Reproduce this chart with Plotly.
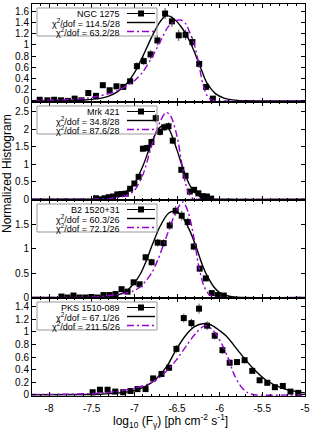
import plotly.graph_objects as go
from plotly.subplots import make_subplots

# ---------------- data ----------------
source_names = ["NGC 1275", "Mrk 421", "B2 1520+31", "PKS 1510-089"]
chi_black = ["114.5/28", "34.8/28", "60.3/26", "67.1/26"]
chi_purple = ["63.2/28", "87.6/28", "72.1/26", "211.5/26"]

# Panel 1: NGC 1275
ngc_x = [-8.11, -8.02, -7.94, -7.86, -7.78, -7.70, -7.62, -7.54, -7.45, -7.37, -7.29, -7.21, -7.13,
         -7.05, -6.97, -6.89, -6.81, -6.73, -6.64, -6.56, -6.48, -6.40, -6.32, -6.24, -6.16, -6.08]
ngc_y = [0.02, 0.01, 0.02, 0.01, 0.0, 0.04, 0.01, 0.14, 0.09, 0.28, 0.19, 0.26, 0.25,
         0.35, 0.62, 0.71, 0.83, 1.08, 1.56, 1.42, 1.17, 1.18, 1.05, 0.66, 0.25, 0.04]
ngc_err = [0.02, 0.01, 0.02, 0.01, 0.01, 0.02, 0.01, 0.04, 0.03, 0.05, 0.04, 0.05, 0.05,
           0.05, 0.07, 0.07, 0.08, 0.09, 0.1, 0.1, 0.1, 0.09, 0.09, 0.07, 0.04, 0.02]
ngc_fit1_x = [-8.2, -7.8, -7.6, -7.4, -7.3, -7.2, -7.1, -7.0, -6.9, -6.8, -6.7, -6.63, -6.55, -6.45,
              -6.35, -6.25, -6.15, -6.05, -5.95, -5.85, -5.7, -5.0]
ngc_fit1_y = [0.0, 0.004, 0.015, 0.045, 0.085, 0.16, 0.29, 0.5, 0.8, 1.13, 1.41, 1.52, 1.48, 1.32,
              1.06, 0.7, 0.32, 0.13, 0.05, 0.017, 0.002, 0.0]
ngc_fit2_x = [-8.2, -7.8, -7.6, -7.4, -7.2, -7.0, -6.9, -6.8, -6.7, -6.6, -6.5, -6.45, -6.4, -6.35,
              -6.3, -6.25, -6.2, -6.15, -6.1, -6.0, -5.0]
ngc_fit2_y = [0.005, 0.02, 0.04, 0.09, 0.18, 0.36, 0.52, 0.76, 1.05, 1.33, 1.44, 1.44, 1.38, 1.22,
              1.02, 0.7, 0.32, 0.1, 0.02, 0.0, 0.0]

# Panel 2: Mrk 421
mrk_x = [-7.45, -7.40, -7.35, -7.30, -7.25, -7.20, -7.15, -7.10, -7.05, -7.00, -6.95, -6.90, -6.85,
         -6.80, -6.75, -6.70, -6.65, -6.60, -6.55, -6.45, -6.40, -6.35, -6.30, -6.25, -6.20, -6.15, -6.10]
mrk_y = [0.03, 0.0, 0.03, 0.06, 0.08, 0.14, 0.15, 0.16, 0.3, 0.45, 0.64, 1.44, 1.46,
         1.63, 2.31, 1.92, 2.05, 2.08, 1.67, 0.84, 0.67, 0.22, 0.27, 0.17, 0.09, 0.08, 0.02]
mrk_err = [0.02, 0.01, 0.02, 0.03, 0.03, 0.04, 0.04, 0.04, 0.05, 0.06, 0.07, 0.1, 0.1,
           0.1, 0.12, 0.11, 0.11, 0.11, 0.1, 0.07, 0.07, 0.04, 0.04, 0.04, 0.03, 0.03, 0.02]
mrk_fit1_x = [-8.2, -7.6, -7.4, -7.3, -7.2, -7.1, -7.0, -6.9, -6.8, -6.72, -6.66, -6.6, -6.5, -6.45,
              -6.4, -6.35, -6.3, -6.2, -6.1, -6.0, -5.0]
mrk_fit1_y = [0.0, 0.003, 0.02, 0.05, 0.1, 0.22, 0.45, 0.95, 1.6, 2.0, 2.1, 2.02, 1.4, 1.02,
              0.68, 0.4, 0.21, 0.05, 0.01, 0.0, 0.0]
mrk_fit2_x = [-8.2, -7.5, -7.3, -7.1, -7.0, -6.9, -6.8, -6.7, -6.63, -6.58, -6.5, -6.45, -6.4,
              -6.35, -6.3, -6.2, -5.0]
mrk_fit2_y = [0.0, 0.005, 0.02, 0.1, 0.25, 0.7, 1.5, 2.2, 2.47, 2.4, 1.8, 1.1, 0.45,
              0.1, 0.01, 0.0, 0.0]

# Panel 3: B2 1520+31
b2_x = [-7.855, -7.785, -7.714, -7.644, -7.573, -7.503, -7.432, -7.362, -7.291, -7.221, -7.150,
        -7.080, -7.009, -6.939, -6.868, -6.798, -6.727, -6.657, -6.586, -6.516, -6.445, -6.375,
        -6.304, -6.234, -6.163, -6.093, -6.022, -5.952]
b2_y = [0.02, 0.0, 0.04, 0.0, 0.0, 0.01, 0.0, 0.05, 0.05, 0.07, 0.17, 0.12, 0.31, 0.27, 0.82,
        0.72, 1.12, 1.11, 1.47, 1.77, 1.67, 1.54, 1.04, 0.59, 0.39, 0.09, 0.05, 0.04]
b2_err = [0.02, 0.01, 0.02, 0.01, 0.01, 0.01, 0.01, 0.03, 0.03, 0.03, 0.04, 0.04, 0.05, 0.05,
          0.07, 0.07, 0.08, 0.08, 0.09, 0.1, 0.1, 0.09, 0.08, 0.06, 0.05, 0.03, 0.02, 0.02]
b2_fit1_x = [-8.2, -7.6, -7.3, -7.2, -7.1, -7.0, -6.93, -6.86, -6.8, -6.7, -6.6, -6.53, -6.45,
             -6.35, -6.29, -6.2, -6.14, -6.07, -6.0, -5.9, -5.8, -5.0]
b2_fit1_y = [0.0, 0.002, 0.02, 0.05, 0.12, 0.3, 0.48, 0.75, 1.03, 1.45, 1.72, 1.76, 1.68,
             1.36, 1.1, 0.65, 0.42, 0.22, 0.1, 0.03, 0.006, 0.0]
b2_fit2_x = [-8.2, -7.6, -7.4, -7.2, -7.1, -7.0, -6.93, -6.86, -6.79, -6.72, -6.65, -6.58, -6.5,
             -6.43, -6.37, -6.3, -6.25, -6.19, -6.13, -6.07, -6.0, -5.0]
b2_fit2_y = [0.0, 0.005, 0.02, 0.06, 0.09, 0.14, 0.22, 0.35, 0.52, 0.79, 1.12, 1.45, 1.8,
             1.95, 1.75, 1.2, 0.68, 0.26, 0.07, 0.01, 0.0, 0.0]

# Panel 4: PKS 1510-089
pks_x = [-7.489, -7.404, -7.314, -7.224, -7.131, -7.045, -6.963, -6.869, -6.78, -6.682, -6.593,
         -6.507, -6.421, -6.331, -6.242, -6.148, -6.058, -5.968, -5.883, -5.797, -5.708, -5.618,
         -5.532, -5.442, -5.353, -5.26, -5.17, -5.08]
pks_y = [0.04, 0.08, 0.08, 0.05, 0.04, 0.06, 0.09, 0.09, 0.26, 0.33, 0.43, 0.73, 1.22, 1.14,
         1.37, 1.10, 0.94, 0.71, 0.51, 0.52, 0.55, 0.38, 0.23, 0.19, 0.12, 0.14, 0.05, 0.03]
pks_err = [0.02, 0.03, 0.03, 0.02, 0.02, 0.03, 0.03, 0.03, 0.04, 0.05, 0.05, 0.06, 0.07, 0.07,
           0.08, 0.07, 0.06, 0.06, 0.05, 0.05, 0.05, 0.04, 0.04, 0.03, 0.03, 0.03, 0.02, 0.02]
pks_fit1_x = [-8.2, -7.6, -7.4, -7.2, -7.0, -6.86, -6.74, -6.62, -6.51, -6.39, -6.3, -6.2, -6.1,
              -6.0, -5.92, -5.765, -5.61, -5.455, -5.26, -5.065, -5.0]
pks_fit1_y = [0.0, 0.003, 0.009, 0.025, 0.065, 0.14, 0.26, 0.45, 0.72, 0.96, 1.08, 1.13, 1.11,
              1.02, 0.93, 0.67, 0.42, 0.23, 0.10, 0.04, 0.03]
pks_fit2_x = [-8.2, -7.78, -7.59, -7.4, -7.21, -7.015, -6.86, -6.74, -6.62, -6.51, -6.39, -6.28,
              -6.17, -6.08, -5.98, -5.9, -5.83, -5.75, -5.67, -5.59, -5.0]
pks_fit2_y = [0.005, 0.008, 0.015, 0.025, 0.05, 0.1, 0.16, 0.24, 0.38, 0.55, 0.78, 0.98,
              1.1, 1.03, 0.82, 0.58, 0.32, 0.13, 0.03, 0.0, 0.0]

x_tickvals = [-8, -7.5, -7, -6.5, -6, -5.5, -5]
x_ticktext = ["-8", "-7.5", "-7", "-6.5", "-6", "-5.5", "-5"]
y_ticks = [[0, 0.2, 0.4, 0.6, 0.8, 1, 1.2, 1.4, 1.6],
           [0, 0.5, 1, 1.5, 2, 2.5],
           [0, 0.5, 1, 1.5],
           [0, 0.2, 0.4, 0.6, 0.8, 1, 1.2, 1.4]]
y_ranges = [[-0.02, 1.73], [-0.02, 2.77], [-0.01, 1.99], [-0.02, 1.54]]

# ---------------- figure ----------------
FONT = "Liberation Sans, Arial, sans-serif"
PURPLE = "#9400d3"

panels = [
    (ngc_x, ngc_y, ngc_err, ngc_fit1_x, ngc_fit1_y, ngc_fit2_x, ngc_fit2_y),
    (mrk_x, mrk_y, mrk_err, mrk_fit1_x, mrk_fit1_y, mrk_fit2_x, mrk_fit2_y),
    (b2_x, b2_y, b2_err, b2_fit1_x, b2_fit1_y, b2_fit2_x, b2_fit2_y),
    (pks_x, pks_y, pks_err, pks_fit1_x, pks_fit1_y, pks_fit2_x, pks_fit2_y),
]

fig = make_subplots(rows=4, cols=1, vertical_spacing=0)

for i, (px, py, pe, f1x, f1y, f2x, f2y) in enumerate(panels):
    r = i + 1
    fig.add_trace(go.Scatter(
        x=px, y=py, mode="markers", name=source_names[i],
        marker=dict(symbol="square", size=6, color="black"),
        error_y=dict(type="data", array=pe, visible=True, color="#555555", thickness=1, width=0),
        showlegend=False), row=r, col=1)
    fig.add_trace(go.Scatter(
        x=f1x, y=f1y, mode="lines", name="χ²/dof = " + chi_black[i],
        line=dict(color="black", width=1.4, shape="spline", smoothing=0.8),
        showlegend=False), row=r, col=1)
    fig.add_trace(go.Scatter(
        x=f2x, y=f2y, mode="lines", name="χ²/dof = " + chi_purple[i],
        line=dict(color=PURPLE, width=1.4, dash="7px,3px,2px,3px", shape="spline", smoothing=0.8),
        showlegend=False), row=r, col=1)

    fig.update_xaxes(
        range=[-8.2, -5], showline=True, linecolor="black", linewidth=1, mirror="ticks",
        ticks="inside", ticklen=4, tickcolor="black", tickvals=x_tickvals, ticktext=x_ticktext,
        minor=dict(ticks="inside", dtick=0.1, tick0=-8, ticklen=2, tickcolor="black"),
        showgrid=False, zeroline=False, showticklabels=(r == 4),
        tickfont=dict(family=FONT, size=10, color="black"), ticklabelstandoff=3,
        row=r, col=1)
    fig.update_yaxes(
        range=y_ranges[i], showline=True, linecolor="black", linewidth=1, mirror="ticks",
        ticks="inside", ticklen=4, tickcolor="black", tickvals=y_ticks[i],
        showgrid=False, zeroline=False,
        tickfont=dict(family=FONT, size=10, color="black"),
        row=r, col=1)

    # key (gnuplot style: text on left, sample on right)
    xd = "x domain" if r == 1 else f"x{r} domain"
    yd = "y domain" if r == 1 else f"y{r} domain"
    PH = 98.0
    PW = 273.0
    top = 1 - 4 / PH
    box_h = 28 / PH
    fig.add_shape(type="rect", xref=xd, yref=yd, x0=5 / PW, x1=125 / PW, y0=top - box_h, y1=top,
                  line=dict(color="#999999", width=1))
    labels = [source_names[i], "χ<sup>2</sup>/dof = " + chi_black[i], "χ<sup>2</sup>/dof = " + chi_purple[i]]
    for k in range(3):
        yk = top - (5.5 + 9 * k) / PH
        fig.add_annotation(xref=xd, yref=yd, x=90 / PW, y=yk, text=labels[k], showarrow=False,
                           xanchor="right", yanchor="middle",
                           font=dict(family=FONT, size=9, color="black"))
        lc = ["black", "black", PURPLE][k]
        dash = [None, None, "7px,3px,2px,3px"][k]
        fig.add_shape(type="line", xref=xd, yref=yd, x0=95 / PW, x1=123 / PW, y0=yk, y1=yk,
                      line=dict(color=lc, width=1.4 if k else 1, dash=dash))
        if k == 0:
            fig.add_shape(type="rect", xref=xd, yref=yd, x0=106 / PW, x1=112 / PW,
                          y0=yk - 3 / PH, y1=yk + 3 / PH, fillcolor="black", line=dict(width=0))

fig.add_annotation(xref="paper", yref="paper", x=-25 / 273, y=(396 - 174) / 392,
                   text="Normalized Histogram", textangle=-90, showarrow=False,
                   xanchor="center", yanchor="middle",
                   font=dict(family=FONT, size=12, color="black"))
fig.add_annotation(xref="paper", yref="paper", x=(170 - 32) / 273, y=(396 - 421) / 392,
                   text="log<sub>10</sub> (F<sub>γ</sub>) [ph cm<sup>-2</sup> s<sup>-1</sup>]",
                   showarrow=False, xanchor="center", yanchor="middle",
                   font=dict(family=FONT, size=12, color="black"))

fig.update_layout(width=314, height=432, margin=dict(l=32, r=9, t=4, b=36),
                  plot_bgcolor="white", paper_bgcolor="white", showlegend=False,
                  font=dict(family=FONT, color="black"))

fig.write_html("out.html", config={"displayModeBar": False},
               post_script="document.body.style.margin='0px';")
